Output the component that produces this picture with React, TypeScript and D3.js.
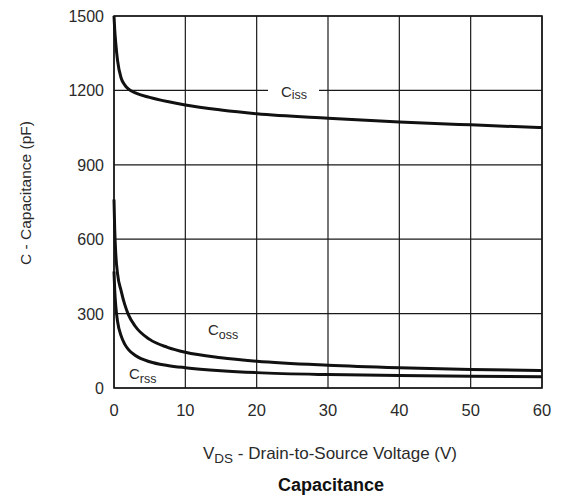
import * as React from "react"
import * as d3 from "d3"

// V_DS sample points (V)
const vds = [0, 0.1, 0.25, 0.5, 1, 1.5, 2, 3, 5, 7.5, 10, 15, 20, 30, 40, 50, 60]
// capacitances (pF)
const ciss = [1500, 1445, 1390, 1320, 1250, 1222, 1206, 1190, 1172, 1155, 1141, 1121, 1106, 1088, 1073, 1061, 1050]
const coss = [760, 640, 540, 460, 392, 337, 297, 248, 196, 164, 144, 122, 108, 92, 82, 75, 70]
const crss = [470, 395, 330, 268, 210, 177, 156, 131, 106, 91, 82, 70, 62, 54, 50, 47, 45]

const xTicks = [0, 10, 20, 30, 40, 50, 60]
const yTicks = [0, 300, 600, 900, 1200, 1500]

const W = 562
const H = 500
const margin = { top: 16, right: 20, bottom: 112, left: 114 }
const font = "'Liberation Sans', Arial, sans-serif"
const ink = "#2a2a2a"

export default function App() {
  const x = d3.scaleLinear().domain([0, 60]).range([margin.left, W - margin.right])
  const y = d3.scaleLinear().domain([0, 1500]).range([H - margin.bottom, margin.top])

  const line = (vals: number[]) =>
    d3
      .line<number>()
      .x((_, i) => x(vds[i]))
      .y((d) => y(d))
      .curve(d3.curveMonotoneX)(vals) || ""

  const series = [ciss, coss, crss]

  return (
    <svg width={W} height={H} style={{ position: "absolute", left: 0, top: 0, background: "#fff" }}>
      {/* grid */}
      <g stroke="#1a1a1a" strokeWidth={1.2}>
        {xTicks.map((t) => (
          <line key={"gx" + t} x1={x(t)} x2={x(t)} y1={y(0)} y2={y(1500)} />
        ))}
        {yTicks.map((t) => (
          <line key={"gy" + t} x1={x(0)} x2={x(60)} y1={y(t)} y2={y(t)} />
        ))}
      </g>
      <rect
        x={x(0)}
        y={y(1500)}
        width={x(60) - x(0)}
        height={y(0) - y(1500)}
        fill="none"
        stroke="#1a1a1a"
        strokeWidth={1.6}
      />

      {/* curves */}
      <g fill="none" stroke="#111" strokeWidth={3} strokeLinejoin="round">
        {series.map((s, i) => (
          <path key={i} d={line(s)} />
        ))}
      </g>

      {/* curve labels */}
      <rect x={268} y={80} width={51} height={22} fill="#fff" />
      <text x={281} y={97} fontFamily={font} fontSize={15} fill={ink}>
        C<tspan fontSize={12.5} dy={2}>iss</tspan>
      </text>
      <text x={208} y={335} fontFamily={font} fontSize={15} fill={ink}>
        C<tspan fontSize={12.5} dy={4}>oss</tspan>
      </text>
      <text x={129} y={379} fontFamily={font} fontSize={15} fill={ink}>
        C<tspan fontSize={12.5} dy={4}>rss</tspan>
      </text>

      {/* tick labels */}
      <g fontFamily={font} fill={ink}>
        {xTicks.map((t) => (
          <text key={"tx" + t} x={x(t)} y={y(0) + 28} textAnchor="middle" fontSize={16.5}>
            {t}
          </text>
        ))}
        {yTicks.map((t) => (
          <text key={"ty" + t} x={x(0) - 10} y={y(t) + 6} textAnchor="end" fontSize={16}>
            {t}
          </text>
        ))}
      </g>

      {/* axis titles */}
      <text x={(x(0) + x(60)) / 2 + 2} y={459} textAnchor="middle" fontFamily={font} fontSize={17} fill={ink}>
        V<tspan fontSize={13.5} dy={4}>DS</tspan>
        <tspan dy={-4}> - Drain-to-Source Voltage (V)</tspan>
      </text>
      <text
        transform={`translate(31,${(y(0) + y(1500)) / 2 - 9}) rotate(-90)`}
        textAnchor="middle"
        fontFamily={font}
        fontSize={15.5}
        fill={ink}
      >
        C - Capacitance (pF)
      </text>
      <text x={(x(0) + x(60)) / 2 + 3} y={491} textAnchor="middle" fontFamily={font} fontSize={18} fontWeight="bold" fill="#111">
        Capacitance
      </text>
    </svg>
  )
}
